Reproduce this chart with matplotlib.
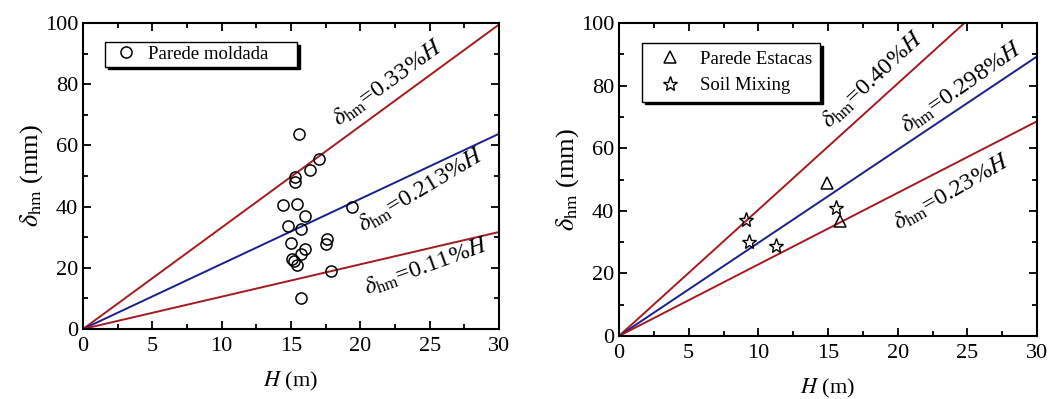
import matplotlib
matplotlib.use("Agg")
import matplotlib.pyplot as plt
import numpy as np
from matplotlib.ticker import MultipleLocator

plt.rcParams['font.family'] = ['Liberation Serif', 'DejaVu Serif']
plt.rcParams['mathtext.fontset'] = 'stix'

# left panel: parede moldada
pm_H = [15.6, 17.0, 16.4, 15.3, 15.3, 14.4, 15.4, 16.0, 14.8, 15.7,
        15.0, 17.6, 17.5, 16.0, 15.7, 15.1, 15.2, 15.4, 17.9, 15.7, 19.4]
pm_d = [63.7, 55.6, 52.0, 49.8, 48.0, 40.6, 40.9, 36.8, 33.5, 32.6,
        28.0, 29.3, 27.7, 26.0, 24.5, 22.8, 22.3, 20.9, 19.1, 10.1, 40.0]

# right panel
pe_H = [14.95, 15.85]
pe_d = [49.0, 36.6]
sm_H = [9.15, 9.35, 11.3, 15.6]
sm_d = [37.1, 29.9, 28.6, 40.8]

left_lbl = ["0.33", "0.213", "0.11"]
left_end = [99.5, 63.8, 31.7]
right_lbl = ["0.40", "0.298", "0.23"]
right_end = [121.0, 89.3, 68.6]

red = '#a31a1f'
blue = '#1a1f8c'

fig = plt.figure(figsize=(10.57, 3.99), dpi=100)
ax1 = fig.add_axes([83/1057, 70/399, 416/1057, 306/399])
ax2 = fig.add_axes([619/1057, 63/399, 418/1057, 313/399])


def style(ax):
    ax.set_xlim(0, 30)
    ax.set_ylim(0, 100)
    ax.xaxis.set_major_locator(MultipleLocator(5))
    ax.xaxis.set_minor_locator(MultipleLocator(2.5))
    ax.yaxis.set_major_locator(MultipleLocator(20))
    ax.yaxis.set_minor_locator(MultipleLocator(10))
    ax.tick_params(which='both', direction='in', top=True, right=True,
                   labelsize=16, width=1.3)
    ax.tick_params(which='major', length=6)
    ax.tick_params(axis='x', which='major', pad=6)
    ax.tick_params(which='minor', length=3.5)
    for s in ax.spines.values():
        s.set_linewidth(1.5)
    ax.set_xlabel(r'$\it{H}$ (m)', fontsize=16, labelpad=10)
    ax.set_ylabel(r'$\delta_{\rm hm}$ (mm)', fontsize=19, labelpad=0)


def label(ax, x, y, txt, rot):
    ax.text(x, y, r'$\delta_{\rm hm}$=' + txt + r'%$\it{H}$', fontsize=17.5,
            rotation=rot, ha='center', va='center', rotation_mode='anchor')


Hs = [0, 30]
cols = [red, blue, red]

for e, c in zip(left_end, cols):
    ax1.plot(Hs, [0, e], color=c, lw=1.4, zorder=2)
ax1.plot(pm_H, pm_d, 'o', mfc='none', mec='black', mew=1.1, ms=8,
         label='Parede moldada', zorder=3)
style(ax1)
label(ax1, 22.0, 80.5, left_lbl[0], 36)
label(ax1, 24.4, 45.5, left_lbl[1], 31)
label(ax1, 24.8, 20.5, left_lbl[2], 20)
ax1.legend(loc='upper left', bbox_to_anchor=(0.053, 0.938, 0.461, 0),
           mode='expand', fontsize=13.5,
           fancybox=False, shadow={'color': 'black', 'alpha': 1},
           edgecolor='black', framealpha=1, handletextpad=0.3,
           borderpad=0.2, handlelength=1.8, borderaxespad=0)

for e, c in zip(right_end, cols):
    ax2.plot(Hs, [0, e], color=c, lw=1.4, zorder=2)
ax2.plot(pe_H, pe_d, '^', mfc='none', mec='black', mew=1.1, ms=9,
         label='Parede Estacas', zorder=3)
ax2.plot(sm_H, sm_d, '*', mfc='none', mec='black', mew=1.0, ms=11,
         label='Soil Mixing', zorder=3)
style(ax2)
label(ax2, 18.2, 82.0, right_lbl[0], 43)
label(ax2, 24.6, 79.5, right_lbl[1], 35)
label(ax2, 23.9, 46.0, right_lbl[2], 30)
ax2.legend(loc='upper left', bbox_to_anchor=(0.055, 0.936, 0.426, 0),
           mode='expand', fontsize=13.5,
           fancybox=False, shadow={'color': 'black', 'alpha': 1},
           edgecolor='black', framealpha=1, handletextpad=0.5,
           borderpad=0.4, handlelength=2.2, labelspacing=0.5,
           borderaxespad=0)

fig.savefig('out.png', dpi=100)
